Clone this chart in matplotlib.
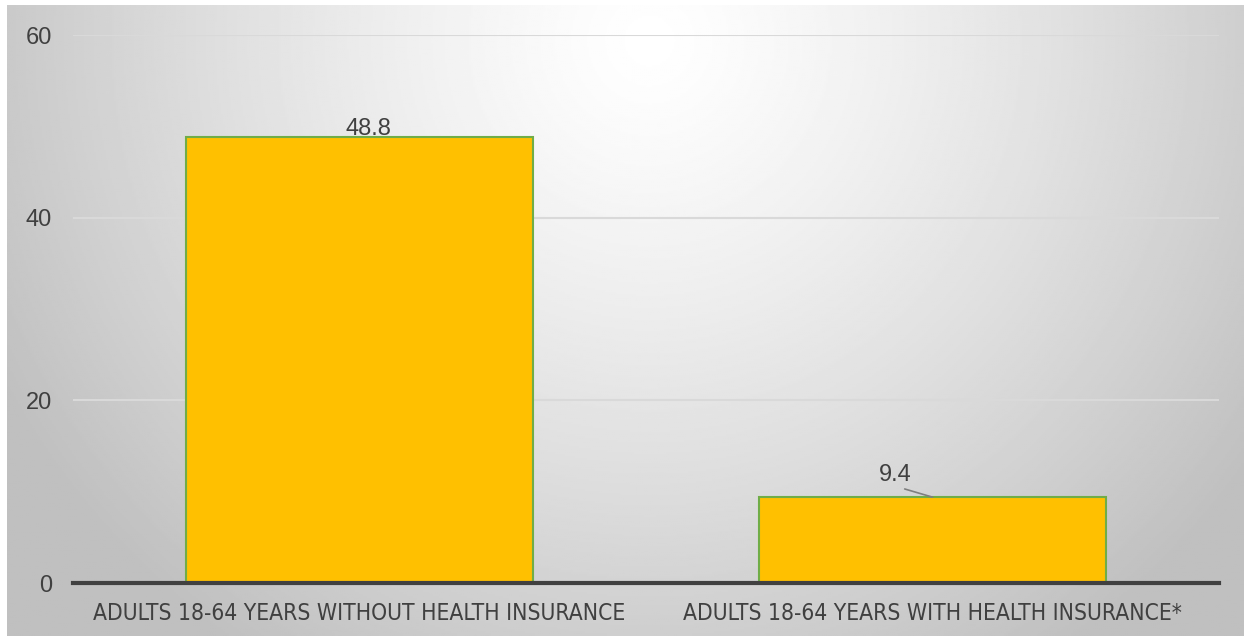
import matplotlib.pyplot as plt
import numpy as np
from matplotlib import font_manager

categories = ['ADULTS 18-64 YEARS WITHOUT HEALTH INSURANCE',
              'ADULTS 18-64 YEARS WITH HEALTH INSURANCE*']
values = [48.8, 9.4]
yticks = [0, 20, 40, 60]

# look for an upright condensed face for the category labels
narrow = None
for f in font_manager.fontManager.ttflist:
    upright = f.style == 'normal' and f.weight in (400, 'normal', 'regular')
    if not upright:
        continue
    if 'Narrow' in f.name or 'Condensed' in f.name or f.stretch in ('condensed', 'semi-condensed'):
        narrow = font_manager.FontProperties(fname=f.fname)
        break
if narrow is None:
    narrow = font_manager.FontProperties(family='Roboto')

plt.rcParams['font.family'] = ['Liberation Sans', 'DejaVu Sans']

W, H = 1244, 637
fig = plt.figure(figsize=(W / 100, H / 100), dpi=100)
fig.patch.set_facecolor('white')

# radial grey background, brightest near the top middle
bg = fig.add_axes([7 / W, 1 / H, 1237 / W, 631 / H])
bg.set_axis_off()
px, py = np.meshgrid(np.linspace(7, 1244, 620), np.linspace(5, 636, 320))
r = np.hypot(px - 650, py - 40)
shade = 1.0 - 0.25 * np.clip(r / 740, 0, 1) ** 1.25
bg.imshow(shade, cmap='gray', vmin=0, vmax=1, aspect='auto', extent=[0, 1, 1, 0])
bg.set_xlim(0, 1)
bg.set_ylim(1, 0)

ax = fig.add_axes([73 / W, 54 / H, 1146 / W, 548 / H])
ax.patch.set_alpha(0)
x = np.arange(len(categories))
ax.bar(x, values, width=0.606, color='#FFC000', edgecolor='#70AD47', linewidth=1.5, zorder=3)
ax.set_xlim(-0.5, 1.5)
ax.set_ylim(0, 60)
ax.set_yticks(yticks)
ax.set_yticklabels([str(t) for t in yticks], fontsize=17, color='#404040')
ax.set_xticks(x)
ax.set_xticklabels(categories, color='#404040')
for lbl in ax.get_xticklabels():
    lbl.set_fontproperties(narrow)
    lbl.set_fontsize(16.4)
ax.tick_params(axis='both', length=0)
ax.tick_params(axis='y', pad=15)
ax.tick_params(axis='x', pad=14)
for t in yticks[1:]:
    ax.axhline(t, color='#d9d9d9', linewidth=1.5, zorder=1)
for s in ['top', 'right', 'left']:
    ax.spines[s].set_visible(False)
ax.spines['bottom'].set_color('#404040')
ax.spines['bottom'].set_linewidth(3)
ax.spines['bottom'].set_zorder(4)

# data labels
ax.text(x[0] + 0.015, values[0] + 0.2, f'{values[0]}', ha='center', va='baseline',
        fontsize=17, color='#404040', zorder=5)
ax.annotate(f'{values[1]}', xy=(x[1], values[1]), xytext=(x[1] - 0.065, values[1] + 1.2),
            ha='center', va='bottom', fontsize=17, color='#404040',
            arrowprops=dict(arrowstyle='-', color='#7f7f7f', linewidth=1.2,
                            shrinkA=0, shrinkB=0, relpos=(0.5, 0)))

fig.savefig('out.png', dpi=100)
